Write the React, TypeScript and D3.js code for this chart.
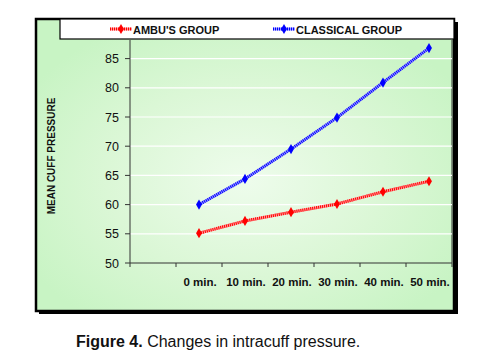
import React from "react";
import * as d3 from "d3";

const categories = ["", "0 min.", "10 min.", "20 min.", "30 min.", "40 min.", "50 min."];
const timePoints = ["0 min.", "10 min.", "20 min.", "30 min.", "40 min.", "50 min."];
const ambuValues = [55.1, 57.2, 58.7, 60.1, 62.2, 64.0];
const classicalValues = [60.0, 64.4, 69.5, 74.9, 80.9, 86.8];
const yTicks = [50, 55, 60, 65, 70, 75, 80, 85];
const seriesNames = ["AMBU'S GROUP", "CLASSICAL GROUP"];
const seriesColors = ["#ff0000", "#0000ff"];
const seriesLight = ["#ff9a9a", "#9a9aff"];

const W = 493;
const H = 359;

export default function App() {
  const plotL = 130, plotR = 452, plotT = 40, plotB = 263;
  const x = d3.scaleBand<string>().domain(categories).range([plotL, plotR]).paddingInner(0).paddingOuter(0);
  const y = d3.scaleLinear().domain([50, 50 + (plotB - plotT) / 5.84]).range([plotB, plotT]);
  const line = d3
    .line<number>()
    .x((_, i) => (x(timePoints[i]) as number) + x.bandwidth() / 2)
    .y((v) => y(v));
  const series = [ambuValues, classicalValues];
  const tickXs = categories.map((c) => x(c) as number).concat([plotR]);
  const diamond = d3.symbol().type(d3.symbolDiamond).size(30)() as string;

  return (
    <svg width={W} height={H} style={{ position: "absolute", left: 0, top: 0 }}>
      <defs>
        <radialGradient id="bg" cx="50%" cy="55%" r="60%">
          <stop offset="0%" stopColor="#eefcec" />
          <stop offset="55%" stopColor="#dbf7d6" />
          <stop offset="100%" stopColor="#c8f4c4" />
        </radialGradient>
      </defs>
      <rect x={0} y={0} width={W} height={H} fill="#ffffff" />
      {/* shadow */}
      <rect x={39} y={22} width={419} height={292} fill="#000" />
      <rect x={36} y={19} width={418} height={292} fill="url(#bg)" stroke="#000" strokeWidth={2.5} />
      {/* legend box */}
      <rect x={60} y={19} width={394} height={20} fill="#ffffff" stroke="#000" strokeWidth={1.2} />
      {/* plot area right border */}
      <line x1={plotR} x2={plotR} y1={plotT} y2={plotB} stroke="#333" strokeWidth={1} />
      {/* gridlines */}
      {yTicks.slice(1).map((t) => (
        <line key={t} x1={plotL} x2={plotR} y1={y(t)} y2={y(t)} stroke="#ffffff" strokeWidth={1.2} />
      ))}
      {/* axes */}
      <line x1={plotL} x2={plotL} y1={plotT} y2={plotB} stroke="#333" strokeWidth={1} />
      <line x1={plotL} x2={plotR} y1={plotB} y2={plotB} stroke="#333" strokeWidth={1} />
      {yTicks.map((t) => (
        <g key={t}>
          <line x1={plotL - 5} x2={plotL} y1={y(t)} y2={y(t)} stroke="#333" />
          <text x={plotL - 11} y={y(t) + 4.5} textAnchor="end" fontFamily="Liberation Sans, Arial, sans-serif" fontSize={12.5} fill="#111">
            {t}
          </text>
        </g>
      ))}
      {tickXs.map((tx, i) => (
        <line key={i} x1={tx} x2={tx} y1={plotB} y2={plotB + 4} stroke="#333" />
      ))}
      {timePoints.map((c) => (
        <text key={c} x={(x(c) as number) + x.bandwidth() / 2 + 1} y={286} textAnchor="middle" fontFamily="Liberation Sans, Arial, sans-serif" fontWeight="bold" fontSize={11.5} fill="#111">
          {c}
        </text>
      ))}
      <text transform={`translate(55,156) rotate(-90)`} textAnchor="middle" fontFamily="Liberation Sans, Arial, sans-serif" fontWeight="bold" fontSize={10} fill="#111">
        MEAN CUFF PRESSURE
      </text>
      {/* series */}
      {series.map((vals, si) => (
        <g key={si}>
          <path d={line(vals) as string} fill="none" stroke={seriesLight[si]} strokeWidth={3} />
          <path d={line(vals) as string} fill="none" stroke={seriesColors[si]} strokeWidth={3} strokeDasharray="1,1" />
          {vals.map((v, i) => (
            <path key={i} d={diamond} transform={`translate(${(x(timePoints[i]) as number) + x.bandwidth() / 2},${y(v)})`} fill={seriesColors[i === -1 ? 0 : si]} />
          ))}
        </g>
      ))}
      {/* legend */}
      {seriesNames.map((name, i) => {
        const lx = i === 0 ? 110 : 273;
        return (
          <g key={name}>
            <line x1={lx} x2={lx + 22} y1={29} y2={29} stroke={seriesLight[i]} strokeWidth={3} />
            <line x1={lx} x2={lx + 22} y1={29} y2={29} stroke={seriesColors[i]} strokeWidth={3} strokeDasharray="1,1" />
            <path d={diamond} transform={`translate(${lx + 11},29)`} fill={seriesColors[i]} />
            <text x={lx + 23} y={33.5} fontFamily="Liberation Sans, Arial, sans-serif" fontWeight="bold" fontSize={11} fill="#111">
              {name}
            </text>
          </g>
        );
      })}
      {/* caption */}
      <text x={76} y={347} fontFamily="Liberation Sans, Arial, sans-serif" fontSize={16} fill="#111">
        <tspan fontWeight="bold">Figure 4.</tspan> Changes in intracuff pressure.
      </text>
    </svg>
  );
}
